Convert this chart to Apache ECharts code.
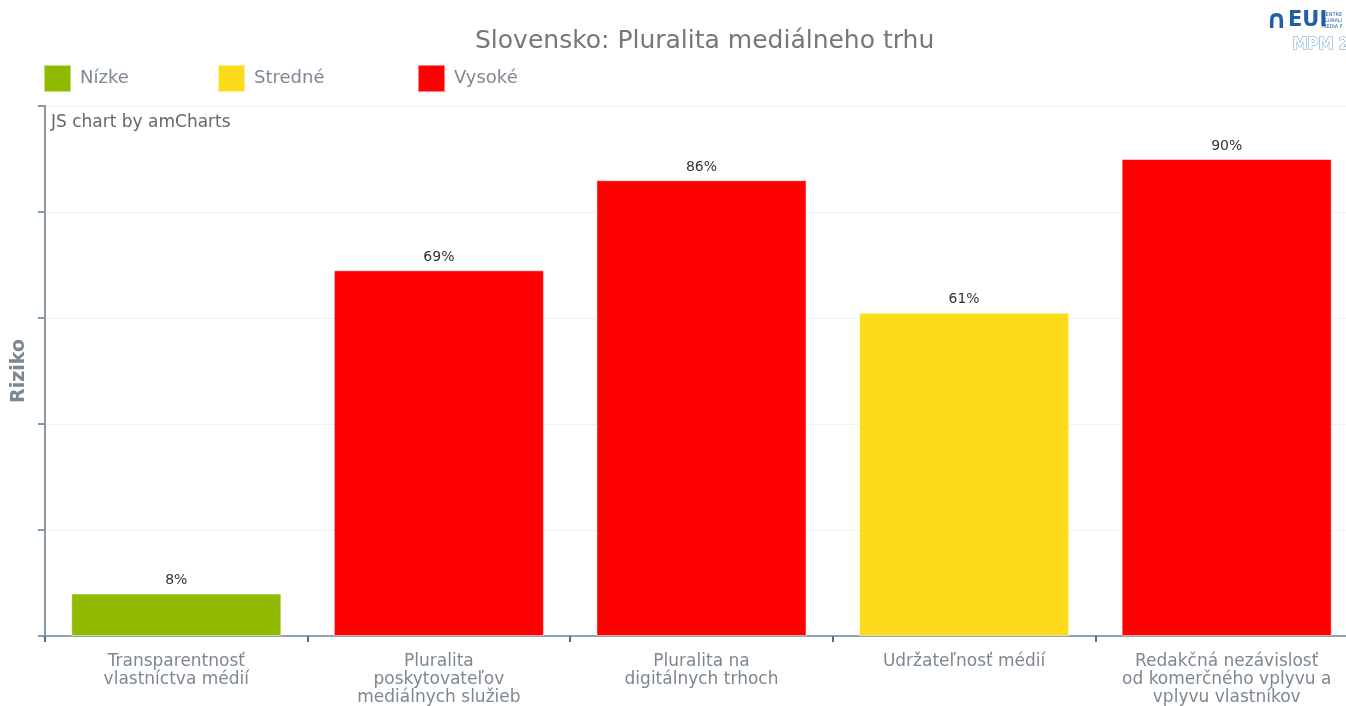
<!DOCTYPE html>
<html>
<head>
<meta charset="utf-8">
<script src="https://cdn.jsdelivr.net/npm/echarts@6/dist/echarts.min.js"></script>
<style>
  html, body { margin: 0; padding: 0; background: #fff; }
  #main { width: 1346px; height: 706px; }
</style>
</head>
<body>
<div id="main"></div>
<script>
var categories = [
    'Transparentnosť\nvlastníctva médií',
    'Pluralita\nposkytovateľov\nmediálnych služieb',
    'Pluralita na\ndigitálnych trhoch',
    'Udržateľnosť médií',
    'Redakčná nezávislosť\nod komerčného vplyvu a\nvplyvu vlastníkov'
];
var values = [8, 69, 86, 61, 90];
var levels = ['Nízke', 'Vysoké', 'Vysoké', 'Stredné', 'Vysoké'];
var levelNames = ['Nízke', 'Stredné', 'Vysoké'];
var levelColors = ['#8fba00', '#fcdc1a', '#ff0000'];
var legendLeft = [43, 217, 417];

var chart = echarts.init(document.getElementById('main'));
var font = 'DejaVu Sans, Verdana, sans-serif';

// one series per risk level, empty where the category has another level
var series = levelNames.map(function (name, k) {
    return {
        name: name,
        type: 'bar',
        stack: 'risk',
        barCategoryGap: '20%',
        itemStyle: {
            color: levelColors[k],
            borderColor: 'rgba(255,255,255,0.5)',
            borderWidth: 1
        },
        label: {
            show: true,
            position: 'top',
            distance: 6,
            formatter: '{c}%',
            color: '#333',
            fontSize: 14,
            fontFamily: font
        },
        data: values.map(function (v, i) {
            return levels[i] === name ? v : null;
        })
    };
});

var legends = levelNames.map(function (name, k) {
    return {
        left: legendLeft[k],
        top: 64,
        padding: 0,
        data: [name],
        icon: 'rect',
        itemWidth: 27,
        itemHeight: 27,
        textStyle: { color: '#7d8893', fontSize: 18, fontFamily: font, padding: [0, 0, 0, 4] }
    };
});

var option = {
    animation: false,
    title: {
        text: 'Slovensko: Pluralita mediálneho trhu',
        left: 470,
        top: 24,
        textStyle: { color: '#777', fontSize: 25, fontWeight: 'normal', fontFamily: font }
    },
    legend: legends,
    grid: { left: 45, width: 1313, top: 106, height: 530, outerBoundsMode: 'none' },
    xAxis: {
        type: 'category',
        data: categories,
        axisLine: { lineStyle: { color: '#8fa3b3', width: 2 } },
        axisTick: { show: true, length: 6, lineStyle: { color: '#4f6f8c', width: 2 } },
        axisLabel: {
            color: '#7d8790',
            fontSize: 17,
            lineHeight: 18,
            margin: 17,
            fontFamily: font,
            interval: 0
        }
    },
    yAxis: {
        type: 'value',
        min: 0,
        max: 100,
        interval: 20,
        name: 'Riziko',
        nameLocation: 'middle',
        nameGap: 16,
        nameTextStyle: { color: '#7d8790', fontSize: 19, fontWeight: 'bold', fontFamily: font },
        axisLine: { show: true, lineStyle: { color: '#8a98a4', width: 2 } },
        axisTick: { show: true, length: 7, lineStyle: { color: '#8a98a4', width: 2 } },
        axisLabel: { show: false },
        splitLine: { lineStyle: { color: '#f0f0f0' } }
    },
    graphic: [
        {
            type: 'text', left: 51, top: 114,
            style: { text: 'JS chart by amCharts', fill: '#666', font: '17px ' + font }
        },
        {
            type: 'text', left: 1266, top: 8,
            style: { text: '\u2229', fill: '#1f5fa5', font: 'bold 26px ' + font }
        },
        {
            type: 'text', left: 1288, top: 10,
            style: { text: 'EUI', fill: '#1f5fa5', font: 'bold 21px ' + font }
        },
        {
            type: 'text', left: 1322, top: 12,
            style: { text: 'CENTRE\nPLURALI\nMEDIA F', fill: '#1f5fa5', font: '5px ' + font, lineHeight: 6 }
        },
        {
            type: 'text', left: 1292, top: 37,
            style: { text: 'MPM 2', fill: '#ffffff', stroke: '#6a9cc9', lineWidth: 1, font: 'bold 15px ' + font }
        }
    ],
    series: series
};
chart.setOption(option);
</script>
</body>
</html>
